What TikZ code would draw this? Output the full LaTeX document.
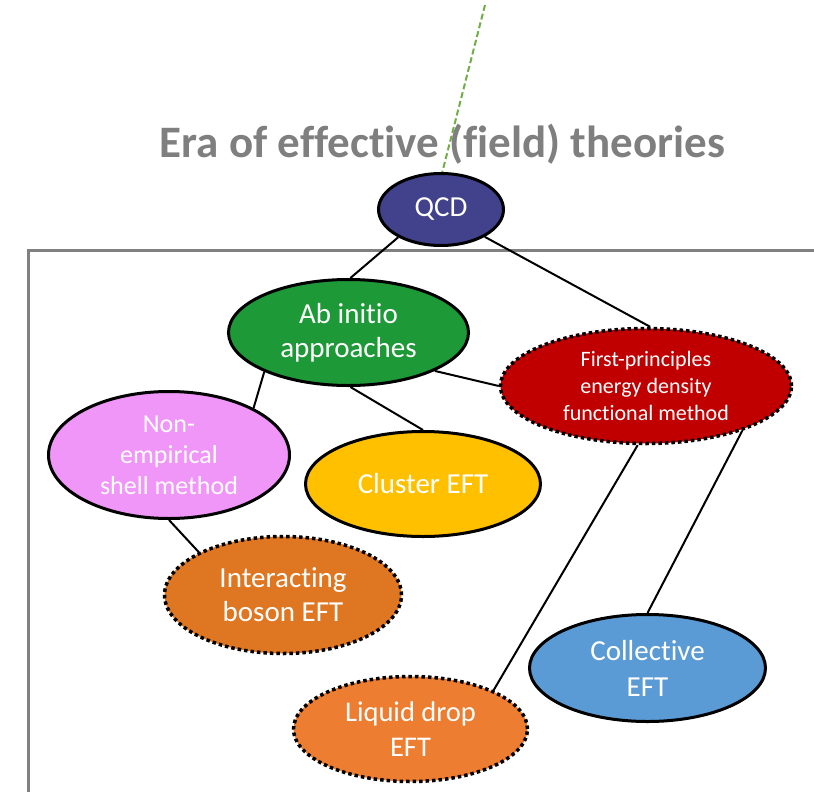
\documentclass[tikz,border=0pt]{standalone}
\usepackage{fontspec}
\setmainfont{Carlito}[Ligatures=NoCommon]
\usetikzlibrary{shapes.geometric}
\definecolor{qcdblue}{HTML}{41418C}
\definecolor{abgreen}{HTML}{1E9937}
\definecolor{fpred}{HTML}{C00000}
\definecolor{nepink}{HTML}{F096F8}
\definecolor{clyellow}{HTML}{FFC000}
\definecolor{iborange}{HTML}{DF7722}
\definecolor{ldorange}{HTML}{ED7D31}
\definecolor{colblue}{HTML}{5B9BD5}
\definecolor{titlegray}{HTML}{7F7F7F}
\definecolor{framegray}{HTML}{808080}
\definecolor{dashgreen}{HTML}{70AD47}
\tikzset{
  bubble/.style={ellipse, draw=black, line width=3pt, inner sep=0pt, align=center, text=white},
  dotbubble/.style={bubble, line width=3.5pt, dash pattern=on 3.5pt off 3pt},
  link/.style={draw=black, line width=2pt},
}
\begin{document}
\begin{tikzpicture}[x=1pt,y=-1pt]
\useasboundingbox (0,0) rectangle (814,792);
% frame
\draw[framegray, line width=3pt] (815,250) -- (28,250) -- (28,793);
% title
\node[anchor=base, text=titlegray, font=\bfseries\fontsize{45}{54}\selectfont, inner sep=0pt] (title) at (442.5,157) {Era of effective (field) theories};
% nodes
\node[bubble, fill=qcdblue, minimum width=125pt, minimum height=72pt, font=\fontsize{29}{34}\selectfont] (qcd) at (441,209.5) {QCD};
\node[bubble, fill=abgreen, minimum width=240pt, minimum height=106pt, font=\fontsize{29}{34}\selectfont] (ab) at (348.5,332.5) {Ab initio\\approaches};
\node[dotbubble, fill=fpred, minimum width=291pt, minimum height=115pt, font=\fontsize{22}{27}\selectfont] (fp) at (646,386) {First-principles\\energy density\\functional method};
\node[bubble, fill=nepink, minimum width=241pt, minimum height=127pt, font=\fontsize{26}{31}\selectfont] (ne) at (169,455) {Non-\\empirical\\shell method};
\node[bubble, fill=clyellow, minimum width=235pt, minimum height=105pt, font=\fontsize{29}{34}\selectfont] (cl) at (423,484) {Cluster EFT};
\node[dotbubble, fill=iborange, minimum width=237pt, minimum height=117pt, font=\fontsize{29}{34}\selectfont] (ib) at (283,595) {Interacting\\boson EFT};
\node[dotbubble, fill=ldorange, minimum width=234pt, minimum height=105pt, font=\fontsize{28.5}{35}\selectfont] (ld) at (410.5,729) {Liquid drop\\EFT};
\node[bubble, fill=colblue, minimum width=236pt, minimum height=107pt, font=\fontsize{29}{36}\selectfont] (co) at (647.5,668) {Collective\\EFT};
% green dashed line
\coordinate (gtop) at (485,5);
\draw[dashgreen, line width=2pt, dash pattern=on 6pt off 3pt] (gtop) -- (qcd.88);
% connectors
\draw[link] (qcd.213) -- (ab.88);
\draw[link] (qcd.328) -- (fp.86);
\draw[link] (ab.336) -- (fp.180);
\draw[link] (ab.205) -- (ne.29);
\draw[link] (ab.272) -- (cl.90);
\draw[link] (ne.270) -- (ib.153);
\draw[link] (fp.262) -- (ld.25);
\draw[link] (fp.335) -- (co.90);
\end{tikzpicture}
\end{document}
